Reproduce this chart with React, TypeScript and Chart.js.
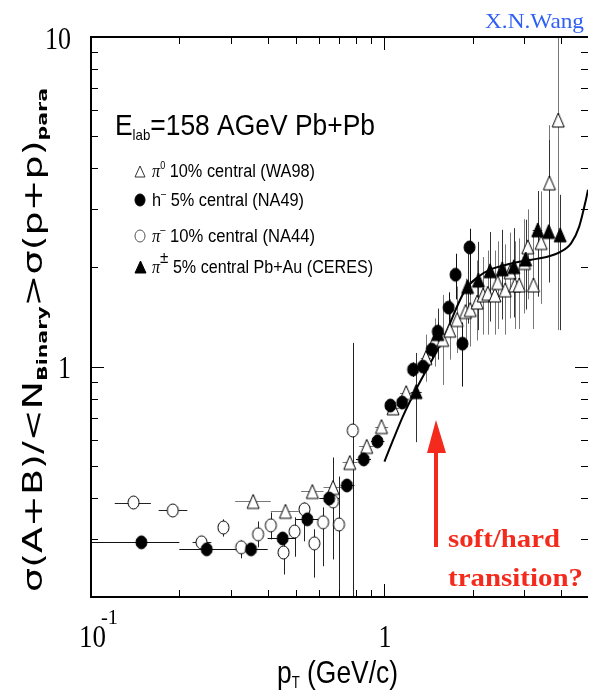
import React, { useEffect, useRef } from "react";
import { Chart, registerables } from "chart.js";
Chart.register(...registerables);

// ---------- axis ranges & ticks ----------
const X_MIN = 0.1;
const X_MAX = 4.94;
const Y_MIN = 0.2;
const Y_MAX = 10;
const xMinorTicks = [0.2, 0.3, 0.4, 0.5, 0.6, 0.7, 0.8, 0.9, 2, 3, 4];
const xMajorTicks = [1];
const yMinorTicks = [0.3, 0.4, 0.5, 0.6, 0.7, 0.8, 0.9, 2, 3, 4, 5, 6, 7, 8, 9];
const yMajorTicks = [1];

// ---------- data: [pT, ratio, yLow, yHigh, xLow, xHigh] ----------
const wa98Points = [
  [0.357, 0.39, 0.39, 0.39, 0.31, 0.41],
  [0.46, 0.364, 0.364, 0.364, 0.41, 0.51],
  [0.568, 0.418, 0.41, 0.427, 0.52, 0.62],
  [0.668, 0.43, 0.42, 0.44, 0.62, 0.72],
  [0.762, 0.512, 0.5, 0.525, 0.72, 0.81],
  [0.87, 0.573, 0.56, 0.59, 0.82, 0.92],
  [0.977, 0.658, 0.64, 0.675, 0.93, 1.03],
  [1.07, 0.75, 0.73, 0.77, 1.03, 1.12],
  [1.186, 0.834, 0.81, 0.86, 1.13, 1.24],
  [1.385, 1.065, 0.9, 1.25, 1.33, 1.44],
  [1.486, 1.207, 1.0, 1.4, 1.486, 1.486],
  [1.58, 1.21, 0.88, 1.65, 1.58, 1.58],
  [1.67, 1.29, 1.05, 1.6, 1.67, 1.67],
  [1.77, 1.39, 1.1, 1.75, 1.77, 1.77],
  [1.89, 1.47, 1.15, 1.85, 1.89, 1.89],
  [1.96, 1.49, 1.15, 1.95, 1.96, 1.96],
  [2.07, 1.57, 1.2, 2.1, 2.07, 2.07],
  [2.17, 1.65, 1.25, 2.15, 2.17, 2.17],
  [2.25, 1.67, 1.25, 2.25, 2.25, 2.25],
  [2.38, 1.65, 1.25, 2.25, 2.38, 2.38],
  [2.43, 1.8, 1.3, 2.4, 2.43, 2.43],
  [2.58, 1.71, 1.25, 2.35, 2.58, 2.58],
  [2.68, 1.94, 1.4, 2.55, 2.68, 2.68],
  [2.78, 1.77, 1.3, 2.4, 2.78, 2.78],
  [2.88, 1.77, 1.3, 2.45, 2.88, 2.88],
  [3.0, 2.07, 1.45, 2.8, 3.0, 3.0],
  [3.08, 2.31, 1.6, 3.0, 3.08, 3.08],
  [3.22, 1.77, 1.3, 2.5, 3.22, 3.22],
  [3.42, 2.38, 1.55, 3.4, 3.42, 3.42],
  [3.65, 3.61, 2.2, 5.4, 3.65, 3.65],
  [3.91, 5.6, 1.29, 12, 3.91, 3.91],
];

const na49Points = [
  [0.1485, 0.293, 0.288, 0.298, 0.09, 0.2],
  [0.248, 0.279, 0.274, 0.284, 0.2, 0.3],
  [0.351, 0.279, 0.274, 0.284, 0.3, 0.4],
  [0.45, 0.301, 0.29, 0.312, 0.4, 0.5],
  [0.546, 0.344, 0.33, 0.36, 0.5, 0.6],
  [0.648, 0.398, 0.38, 0.415, 0.6, 0.7],
  [0.745, 0.436, 0.42, 0.455, 0.71, 0.79],
  [0.85, 0.523, 0.5, 0.545, 0.8, 0.9],
  [0.947, 0.593, 0.57, 0.62, 0.9, 1.0],
  [1.048, 0.762, 0.73, 0.79, 1.048, 1.048],
  [1.15, 0.778, 0.75, 0.81, 1.15, 1.15],
  [1.252, 0.98, 0.93, 1.03, 1.252, 1.252],
  [1.353, 1.0, 0.95, 1.05, 1.353, 1.353],
  [1.45, 1.126, 1.06, 1.2, 1.45, 1.45],
  [1.52, 1.277, 1.2, 1.36, 1.52, 1.52],
  [1.655, 1.51, 1.35, 1.68, 1.655, 1.655],
  [1.747, 1.9, 1.6, 2.2, 1.747, 1.747],
  [1.845, 1.174, 0.87, 1.36, 1.845, 1.845],
  [1.95, 2.3, 1.65, 2.62, 1.95, 1.95],
];

const na44Points = [
  [0.1396, 0.387, 0.387, 0.387, 0.1205, 0.16],
  [0.19, 0.366, 0.352, 0.38, 0.17, 0.213],
  [0.238, 0.293, 0.285, 0.302, 0.222, 0.257],
  [0.2826, 0.325, 0.305, 0.344, 0.274, 0.292],
  [0.325, 0.283, 0.262, 0.297, 0.315, 0.335],
  [0.371, 0.31, 0.283, 0.339, 0.371, 0.371],
  [0.41, 0.33, 0.299, 0.361, 0.4, 0.42],
  [0.453, 0.273, 0.234, 0.293, 0.453, 0.453],
  [0.494, 0.316, 0.265, 0.349, 0.494, 0.494],
  [0.534, 0.369, 0.295, 0.387, 0.534, 0.534],
  [0.577, 0.291, 0.229, 0.321, 0.577, 0.577],
  [0.618, 0.337, 0.248, 0.374, 0.618, 0.618],
  [0.668, 0.39, 0.26, 0.53, 0.668, 0.668],
  [0.7, 0.332, 0.15, 0.464, 0.7, 0.7],
  [0.78, 0.64, 0.15, 1.18, 0.78, 0.78],
];

const ceresPoints = [
  [1.282, 0.84, 0.59, 1.1, 1.23, 1.34],
  [1.52, 1.26, 1.05, 1.5, 1.52, 1.52],
  [1.92, 1.75, 1.35, 2.2, 1.92, 1.92],
  [2.09, 1.83, 1.29, 2.39, 2.09, 2.09],
  [2.29, 1.954, 1.37, 2.56, 2.29, 2.29],
  [2.52, 1.98, 1.39, 2.6, 2.52, 2.52],
  [2.76, 2.01, 1.41, 2.63, 2.76, 2.76],
  [3.03, 2.12, 1.49, 2.79, 3.03, 3.03],
  [3.33, 2.6, 1.63, 3.41, 3.2, 3.45],
  [3.63, 2.57, 1.8, 4.87, 3.63, 3.63],
  [3.97, 2.51, 1.29, 3.32, 3.97, 3.97],
];

const theoryPt = [1.0, 1.072, 1.159, 1.281, 1.58, 1.888, 2.09, 2.29, 2.53, 2.78, 3.17, 3.59, 3.95, 4.33, 4.61, 4.86, 4.94];
const theoryRatio = [0.515, 0.601, 0.71, 0.852, 1.207, 1.712, 1.874, 1.968, 2.023, 2.066, 2.11, 2.155, 2.22, 2.37, 2.66, 3.21, 3.44];

// ---------- helpers ----------
type Run = { t: string; size: number; dy?: number; family?: string; weight?: string; style?: string };
const SANS = '"Liberation Sans", Arial, sans-serif';
const WIDE = '"DejaVu Sans", "Liberation Sans", sans-serif';
const SERIF = '"Liberation Serif", "Times New Roman", serif';

function fontOf(r: Run, fam: string) {
  return `${r.style || "normal"} ${r.weight || "normal"} ${r.size}px ${r.family || fam}`;
}

function drawRuns(ctx: CanvasRenderingContext2D, runs: Run[], x: number, y: number, fam: string, color: string, targetW?: number) {
  ctx.save();
  ctx.fillStyle = color;
  ctx.textBaseline = "alphabetic";
  ctx.textAlign = "left";
  let total = 0;
  const widths = runs.map((r) => {
    ctx.font = fontOf(r, fam);
    const w = ctx.measureText(r.t).width;
    total += w;
    return w;
  });
  const sx = targetW ? targetW / total : 1;
  ctx.translate(x, y);
  ctx.scale(sx, 1);
  let cx = 0;
  runs.forEach((r, i) => {
    ctx.font = fontOf(r, fam);
    ctx.fillText(r.t, cx, r.dy || 0);
    cx += widths[i];
  });
  ctx.restore();
}

function makeMarker(kind: "tri" | "circ", filled: boolean, w: number, h: number, stroke = "#000") {
  const pad = 2;
  const c = document.createElement("canvas");
  c.width = w + pad * 2;
  c.height = h + pad * 2;
  const g = c.getContext("2d")!;
  g.lineWidth = 1;
  g.strokeStyle = stroke;
  g.fillStyle = filled ? "#000" : "#fff";
  g.beginPath();
  if (kind === "tri") {
    g.moveTo(pad + w / 2, pad);
    g.lineTo(pad + w, pad + h);
    g.lineTo(pad, pad + h);
    g.closePath();
  } else {
    g.ellipse(pad + w / 2, pad + h / 2, w / 2, h / 2, 0, 0, Math.PI * 2);
  }
  g.fill();
  g.stroke();
  return c;
}

const errorSeries = [
  { rows: wa98Points, color: "#777" },
  { rows: na44Points, color: "#222" },
  { rows: ceresPoints, color: "#333" },
  { rows: na49Points, color: "#111" },
];

const errorBarPlugin = {
  id: "errbars",
  beforeDatasetsDraw(chart: any) {
    const { ctx, chartArea: a } = chart;
    const xs = chart.scales.x;
    const ys = chart.scales.y;
    ctx.save();
    ctx.beginPath();
    ctx.rect(a.left, a.top, a.right - a.left, a.bottom - a.top);
    ctx.clip();
    ctx.lineWidth = 1;
    for (const s of errorSeries) {
      ctx.strokeStyle = s.color;
      for (const r of s.rows) {
        const px = Math.round(xs.getPixelForValue(r[0])) + 0.5;
        const py = Math.round(ys.getPixelForValue(r[1])) + 0.5;
        ctx.beginPath();
        if (r[2] !== r[3]) {
          ctx.moveTo(px, ys.getPixelForValue(r[2]));
          ctx.lineTo(px, ys.getPixelForValue(r[3]));
        }
        if (r[4] !== r[5]) {
          ctx.moveTo(xs.getPixelForValue(r[4]), py);
          ctx.lineTo(xs.getPixelForValue(r[5]), py);
        }
        ctx.stroke();
      }
    }
    ctx.restore();
  },
};

function makeDecorPlugin(markers: any) {
  return {
    id: "decor",
    afterDraw(chart: any) {
      const { ctx, chartArea: a } = chart;
      const xs = chart.scales.x;
      const ys = chart.scales.y;
      ctx.save();
      // frame
      ctx.strokeStyle = "#000";
      ctx.lineWidth = 2;
      ctx.beginPath();
      ctx.moveTo(a.right, a.top);
      ctx.lineTo(a.left, a.top);
      ctx.lineTo(a.left, a.bottom);
      ctx.lineTo(a.right, a.bottom);
      ctx.stroke();
      // ticks
      ctx.lineWidth = 1;
      ctx.beginPath();
      const xt = (v: number, len: number) => {
        const p = Math.round(xs.getPixelForValue(v)) + 0.5;
        ctx.moveTo(p, a.bottom);
        ctx.lineTo(p, a.bottom - len);
        ctx.moveTo(p, a.top);
        ctx.lineTo(p, a.top + len);
      };
      const yt = (v: number, len: number) => {
        const p = Math.round(ys.getPixelForValue(v)) + 0.5;
        ctx.moveTo(a.left, p);
        ctx.lineTo(a.left + len, p);
        ctx.moveTo(a.right, p);
        ctx.lineTo(a.right - len, p);
      };
      xMinorTicks.forEach((v) => xt(v, 7));
      xMajorTicks.forEach((v) => xt(v, 13));
      yMinorTicks.forEach((v) => yt(v, 7));
      yMajorTicks.forEach((v) => yt(v, 13));
      ctx.stroke();
      ctx.restore();

      // tick labels
      const lab = 31;
      drawRuns(ctx, [{ t: "10", size: lab }], 45, ys.getPixelForValue(10) + 12, SERIF, "#000", 26);
      drawRuns(ctx, [{ t: "1", size: lab }], 58, ys.getPixelForValue(1) + 11, SERIF, "#000", 13);
      drawRuns(ctx, [{ t: "1", size: lab }], xs.getPixelForValue(1) - 6, 647, SERIF, "#000", 13);
      drawRuns(ctx, [{ t: "10", size: lab }], 79, 647, SERIF, "#000", 27);
      drawRuns(ctx, [{ t: "-1", size: 20 }], 101, 624, SERIF, "#000", 17);

      // axis titles
      drawRuns(
        ctx,
        [
          { t: "p", size: 32 },
          { t: "T", size: 16, dy: 5 },
          { t: " (GeV/c)", size: 32 },
        ],
        277,
        683,
        SANS,
        "#000",
        121
      );
      ctx.save();
      ctx.translate(42, 592);
      ctx.rotate(-Math.PI / 2);
      drawRuns(
        ctx,
        [
          { t: "σ(A+B)/<N", size: 26 },
          { t: "Binary", size: 14, dy: 5, weight: "bold" },
          { t: ">σ(p+p)", size: 26 },
          { t: "para", size: 14, dy: 5, weight: "bold" },
        ],
        0,
        0,
        WIDE,
        "#000",
        504
      );
      ctx.restore();

      // top-right credit
      drawRuns(ctx, [{ t: "X.N.Wang", size: 22 }], 485, 28, SERIF, "#2f5ff5", 99);

      // in-plot legend
      drawRuns(
        ctx,
        [
          { t: "E", size: 30 },
          { t: "lab", size: 15, dy: 5 },
          { t: "=158 AGeV Pb+Pb", size: 30 },
        ],
        115,
        135,
        SANS,
        "#000",
        260
      );
      const rows = [
        { y: 171, m: markers.leg1, runs: [{ t: "π", size: 18, family: SERIF, style: "italic" }, { t: "0", size: 10, dy: -8 }, { t: " 10% central (WA98)", size: 18 }], w: 163 },
        { y: 200, m: markers.leg2, runs: [{ t: "h", size: 18 }, { t: "–", size: 10, dy: -9 }, { t: " 5% central (NA49)", size: 18 }], w: 152 },
        { y: 236, m: markers.leg3, runs: [{ t: "π", size: 18, family: SERIF, style: "italic" }, { t: "–", size: 10, dy: -9 }, { t: " 10% central (NA44)", size: 18 }], w: 163 },
        { y: 267, m: markers.leg4, runs: [{ t: "π", size: 18, family: SERIF, style: "italic" }, { t: "±", size: 17, dy: -10 }, { t: " 5% central Pb+Au (CERES)", size: 18 }], w: 221 },
      ];
      for (const r of rows) {
        ctx.drawImage(r.m, Math.round(140 - r.m.width / 2), Math.round(r.y - r.m.height / 2));
        drawRuns(ctx, r.runs as Run[], 152, r.y + 6, SANS, "#000", r.w);
      }

      // red arrow + annotation
      const red = "#f42a1c";
      ctx.save();
      ctx.fillStyle = red;
      ctx.fillRect(434, 450, 4, 97);
      ctx.beginPath();
      ctx.moveTo(436, 420);
      ctx.lineTo(446, 453);
      ctx.lineTo(427, 453);
      ctx.closePath();
      ctx.fill();
      ctx.restore();
      drawRuns(ctx, [{ t: "soft/hard", size: 26, weight: "bold" }], 448, 547, SERIF, red, 112);
      drawRuns(ctx, [{ t: "transition?", size: 26, weight: "bold" }], 448, 586, SERIF, red, 135);
    },
  };
}

export default function App() {
  const ref = useRef<HTMLCanvasElement | null>(null);
  useEffect(() => {
    if (!ref.current) return;
    const mWA = makeMarker("tri", false, 12, 14);
    const mNA49 = makeMarker("circ", true, 11, 13);
    const mNA44 = makeMarker("circ", false, 11, 13);
    const mCE = makeMarker("tri", true, 12, 14);
    const markers = {
      leg1: makeMarker("tri", false, 10, 11, "#333"),
      leg2: makeMarker("circ", true, 10, 12),
      leg3: makeMarker("circ", false, 10, 12, "#555"),
      leg4: makeMarker("tri", true, 11, 12),
    };
    const toXY = (rows: number[][]) => rows.map((r) => ({ x: r[0], y: r[1] }));
    const chart = new Chart(ref.current, {
      type: "scatter",
      data: {
        datasets: [
          { label: "NA49", data: toXY(na49Points), pointStyle: mNA49 as any, pointRadius: 5, showLine: false },
          { label: "CERES", data: toXY(ceresPoints), pointStyle: mCE as any, pointRadius: 5, showLine: false },
          { label: "NA44", data: toXY(na44Points), pointStyle: mNA44 as any, pointRadius: 5, showLine: false },
          { label: "WA98", data: toXY(wa98Points), pointStyle: mWA as any, pointRadius: 5, showLine: false },
          {
            label: "theory",
            data: theoryPt.map((x, i) => ({ x, y: theoryRatio[i] })),
            showLine: true,
            borderColor: "#000",
            borderWidth: 2,
            pointRadius: 0,
            cubicInterpolationMode: "monotone",
            fill: false,
          } as any,
        ],
      },
      options: {
        responsive: false,
        animation: false,
        devicePixelRatio: 1,
        events: [],
        layout: { padding: { left: 91, top: 37, right: 0, bottom: 96 } },
        scales: {
          x: { type: "logarithmic", min: X_MIN, max: X_MAX, display: false },
          y: { type: "logarithmic", min: Y_MIN, max: Y_MAX, display: false },
        },
        plugins: { legend: { display: false }, tooltip: { enabled: false } },
      },
      plugins: [errorBarPlugin, makeDecorPlugin(markers)],
    });
    return () => chart.destroy();
  }, []);
  return (
    <div style={{ position: "absolute", left: 0, top: 0, width: 594, height: 693, background: "#fff" }}>
      <canvas ref={ref} width={594} height={693} style={{ display: "block" }} />
    </div>
  );
}
